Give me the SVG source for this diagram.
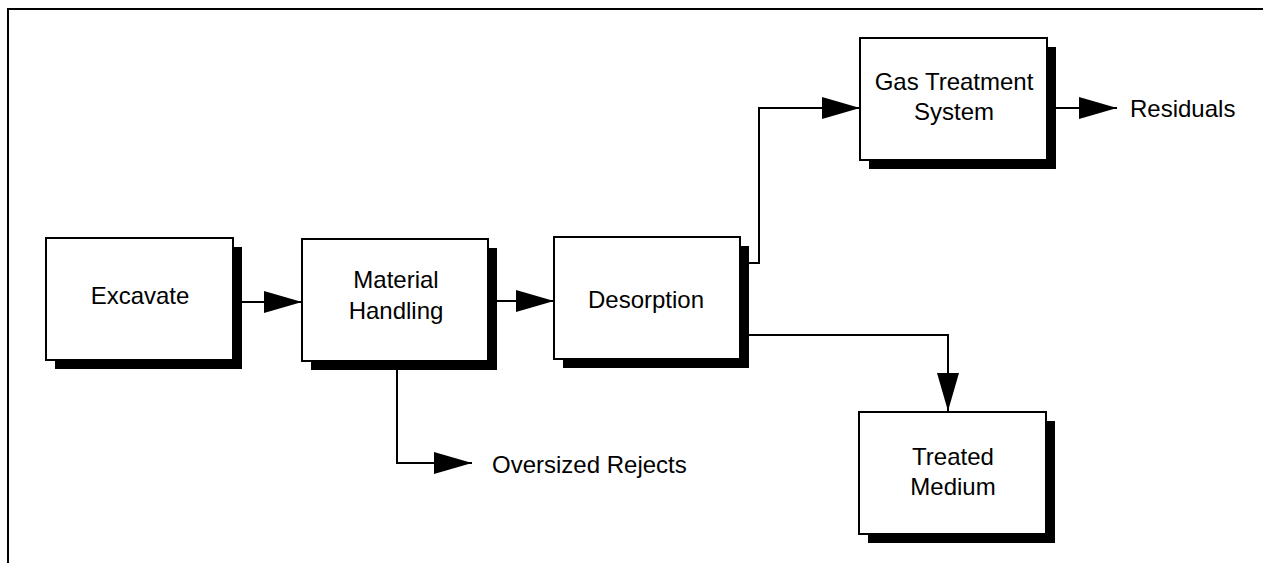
<svg xmlns="http://www.w3.org/2000/svg" width="1263" height="565" viewBox="0 0 1263 565">
  <style>
    .frame { fill: none; stroke: #000; stroke-width: 2; }
    .shadow { fill: #000; }
    .box { fill: #fff; stroke: #000; stroke-width: 2; }
    .label { font-family: "Liberation Sans", Arial, sans-serif; font-size: 24px; fill: #000; text-anchor: middle; }
    .side { font-family: "Liberation Sans", Arial, sans-serif; font-size: 24px; fill: #000; text-anchor: start; }
    .flow { fill: none; stroke: #000; stroke-width: 2; marker-end: url(#head); }
  </style>
  <defs>
    <marker id="head" markerUnits="userSpaceOnUse" markerWidth="38" markerHeight="22" refX="38" refY="11" orient="auto" viewBox="0 0 38 22">
      <path d="M0,0 L38,11 L0,22 Z" fill="#000"/>
    </marker>
  </defs>

  <rect width="1263" height="565" fill="#fff"/>

  <!-- page frame: top and left rules -->
  <path class="frame" d="M8,563 V9 H1263"/>

  <g id="excavate">
    <rect class="shadow" x="55" y="247" width="187" height="122"/>
    <rect class="box" x="46" y="238" width="187" height="122"/>
    <text class="label" x="140" y="304">Excavate</text>
  </g>

  <g id="material-handling">
    <rect class="shadow" x="311" y="248" width="186" height="122"/>
    <rect class="box" x="302" y="239" width="186" height="122"/>
    <text class="label" x="396" y="288">Material</text>
    <text class="label" x="396" y="319">Handling</text>
  </g>

  <g id="desorption">
    <rect class="shadow" x="563" y="246" width="186" height="122"/>
    <rect class="box" x="554" y="237" width="186" height="122"/>
    <text class="label" x="646" y="308">Desorption</text>
  </g>

  <g id="gas-treatment">
    <rect class="shadow" x="869" y="47" width="187" height="122"/>
    <rect class="box" x="860" y="38" width="187" height="122"/>
    <text class="label" x="954" y="90">Gas Treatment</text>
    <text class="label" x="954" y="120">System</text>
  </g>

  <g id="treated-medium">
    <rect class="shadow" x="868" y="421" width="187" height="122"/>
    <rect class="box" x="859" y="412" width="187" height="122"/>
    <text class="label" x="953" y="465">Treated</text>
    <text class="label" x="953" y="495">Medium</text>
  </g>

  <g id="residuals">
    <text class="side" x="1130" y="117">Residuals</text>
  </g>

  <g id="oversized-rejects">
    <text class="side" x="492" y="473">Oversized Rejects</text>
  </g>

  <g id="connectors">
    <path class="flow" d="M242,302 H302"/>
    <path class="flow" d="M497,301 H554"/>
    <path class="flow" d="M749,263 H759 V108 H860"/>
    <path class="flow" d="M1056,108 H1117"/>
    <path class="flow" d="M749,335 H948 V411"/>
    <path class="flow" d="M397,370 V463 H472"/>
  </g>
</svg>
